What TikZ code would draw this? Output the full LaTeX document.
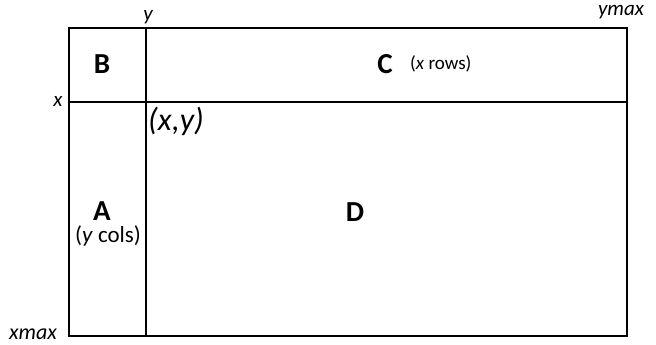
\documentclass[tikz,border=0pt]{standalone}
\usepackage{fontspec}
\setmainfont{Carlito}
\begin{document}
\begin{tikzpicture}[x=1pt,y=-1pt,
  frame/.style={line width=1.6pt,draw=black},
  big/.style={font=\fontsize{29}{31}\selectfont\bfseries,inner sep=0pt},
  axis/.style={font=\fontsize{21}{23}\selectfont\itshape,inner sep=0pt}]
\useasboundingbox (0,0) rectangle (656,345);
\coordinate (tl) at (69,28);
\coordinate (br) at (627,336);
\coordinate (vt) at (146,28);
\coordinate (vb) at (146,336);
\coordinate (hl) at (69,102);
\coordinate (hr) at (627,102);
\draw[frame] (tl) rectangle (br);
\draw[frame] (vt) -- (vb);
\draw[frame] (hl) -- (hr);
\node[axis] (ylab) at (148,17) {y};
\node[axis] (ymaxlab) at (621,12) {ymax};
\node[axis] (xlab) at (58,101) {x};
\node[font=\fontsize{22}{24}\selectfont\itshape,inner sep=0pt] (xmaxlab) at (33,334) {xmax};
\node[big] (B) at (102,64) {B};
\node[big] (C) at (385,64) {C};
\node[font=\fontsize{19}{21}\selectfont,inner sep=0pt,anchor=west] (Cnote) at (410,64) {(\textit{x} rows)};
\node[big] (A) at (102,211) {A};
\node[font=\fontsize{23}{25}\selectfont,inner sep=0pt] (Anote) at (108,236) {(\textit{y} cols)};
\node[big] (D) at (355,212) {D};
\node[font=\fontsize{32}{34}\selectfont\itshape,inner sep=0pt,anchor=west] (xy) at (148,121) {(x,y)};
\end{tikzpicture}
\end{document}
